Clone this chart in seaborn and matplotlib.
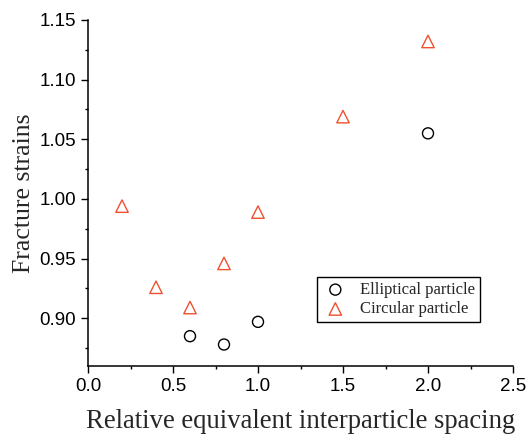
import matplotlib
matplotlib.use("Agg")
import matplotlib.pyplot as plt
from matplotlib.ticker import MultipleLocator
import seaborn as sns
import pandas as pd

# Fracture strain vs relative equivalent interparticle spacing
elliptical_x = [0.6, 0.8, 1.0, 2.0]
elliptical_y = [0.885, 0.878, 0.897, 1.055]
circular_x = [0.2, 0.4, 0.6, 0.8, 1.0, 1.5, 2.0]
circular_y = [0.994, 0.926, 0.909, 0.946, 0.989, 1.069, 1.132]

series_names = ["Elliptical particle", "Circular particle"]
x_ticks = [0.0, 0.5, 1.0, 1.5, 2.0, 2.5]
y_ticks = [0.90, 0.95, 1.00, 1.05, 1.10, 1.15]

sns.set_style("ticks")
plt.rcParams["font.family"] = ["Liberation Sans", "DejaVu Sans"]

df_e = pd.DataFrame({"x": elliptical_x, "y": elliptical_y})
df_c = pd.DataFrame({"x": circular_x, "y": circular_y})

fig = plt.figure(figsize=(5.27, 4.38), dpi=100)
ax = fig.add_axes([88 / 527, 1 - 366 / 438, (513 - 88) / 527, (366 - 20) / 438])

red = "#ef5030"
sns.scatterplot(data=df_e, x="x", y="y", ax=ax, marker="o", s=63,
                edgecolor="black", linewidth=1.0, label=series_names[0])
sns.scatterplot(data=df_c, x="x", y="y", ax=ax, marker="^", s=80,
                edgecolor=red, linewidth=1.0, label=series_names[1])
for coll in ax.collections:
    coll.set_facecolor("none")

ax.set_xlim(0, 2.5)
ax.set_ylim(0.86, 1.15)
ax.set_xticks(x_ticks)
ax.set_yticks(y_ticks)
ax.set_xticklabels([f"{v:.1f}" for v in x_ticks])
ax.set_yticklabels([f"{v:.2f}" for v in y_ticks])
ax.xaxis.set_minor_locator(MultipleLocator(0.25))
ax.yaxis.set_minor_locator(MultipleLocator(0.025))
ax.tick_params(which="major", direction="out", length=5, width=1,
               labelsize=13.5, color="black", labelcolor="black")
ax.tick_params(which="minor", direction="out", length=2.5, width=1, color="black")

sns.despine(ax=ax)
for side in ("left", "bottom"):
    ax.spines[side].set_linewidth(1.1)
    ax.spines[side].set_color("black")

serif = ["Liberation Serif", "DejaVu Serif"]
ax.set_xlabel("Relative equivalent interparticle spacing", family=serif,
              fontsize=19.2, labelpad=10)
ax.set_ylabel("Fracture strains", family=serif, fontsize=18.5, labelpad=3.5)

leg = ax.legend(loc="upper left", bbox_to_anchor=((317 - 88) / 425, (366 - 277) / 346),
                frameon=True, fancybox=False, edgecolor="black", framealpha=1,
                prop={"family": serif, "size": 12}, handletextpad=0.7,
                borderpad=0.3, labelspacing=0.2, handlelength=1.6,
                borderaxespad=0)
leg.get_frame().set_linewidth(1.0)

fig.savefig("out.png", dpi=100)
